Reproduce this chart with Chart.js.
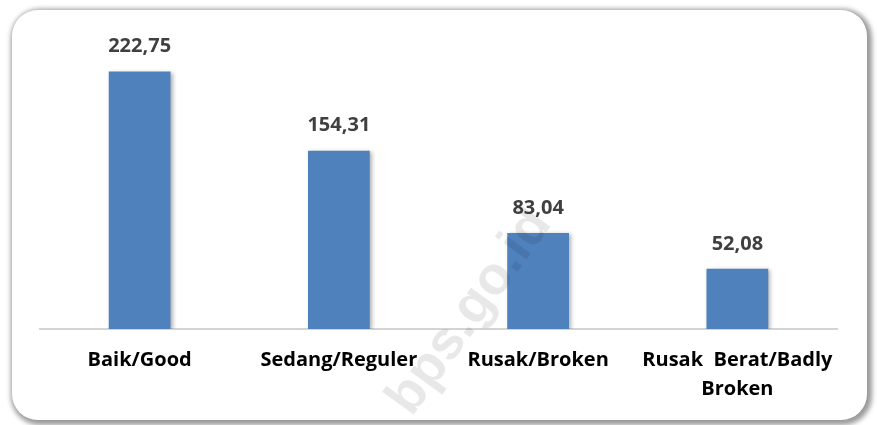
<!DOCTYPE html>
<html>
<head>
<meta charset="utf-8">
<script src="https://cdn.jsdelivr.net/npm/chart.js@4.4.0/dist/chart.umd.min.js"></script>
<style>
    body { margin: 0; background: #ffffff; }
    #frame {
        position: absolute;
        left: 12px;
        top: 10px;
        width: 855px;
        height: 410px;
        background: #fff;
        border-radius: 26px;
        box-shadow: 2px 2px 5px 3px rgba(0, 0, 0, 0.4);
        overflow: hidden;
    }
    #kondisiChart { display: block; }
</style>
</head>
<body>
<div id="frame">
    <canvas id="kondisiChart" width="855" height="410"></canvas>
</div>
<script>
// kondisi jalan (panjang jalan, km)
const categories = ['Baik/Good', 'Sedang/Reguler', 'Rusak/Broken', ['Rusak  Berat/Badly', 'Broken']];
const values = [222.75, 154.31, 83.04, 52.08];
const valueLabels = ['222,75', '154,31', '83,04', '52,08'];

const FONT = '"Open Sans", "Liberation Sans", sans-serif';

// draw value on top of each bar
const valuePlugin = {
    id: 'valuePlugin',
    afterDatasetsDraw: function (chart) {
        const ctx = chart.ctx;
        const meta = chart.getDatasetMeta(0);
        ctx.save();
        ctx.font = 'bold 20px ' + FONT;
        ctx.fillStyle = '#404040';
        ctx.textAlign = 'center';
        ctx.textBaseline = 'middle';
        meta.data.forEach(function (bar, i) {
            ctx.fillText(valueLabels[i], bar.x, bar.y - 25);
        });
        ctx.restore();
    }
};

// little shadow behind the bars
const shadowPlugin = {
    id: 'shadowPlugin',
    beforeDatasetDraw: function (chart) {
        const ctx = chart.ctx;
        ctx.save();
        ctx.shadowColor = 'rgba(0,0,0,0.3)';
        ctx.shadowBlur = 4;
        ctx.shadowOffsetX = 2;
        ctx.shadowOffsetY = 1;
    },
    afterDatasetDraw: function (chart) {
        chart.ctx.restore();
    }
};

// bps.go.id watermark
const watermarkPlugin = {
    id: 'watermarkPlugin',
    afterDraw: function (chart) {
        const ctx = chart.ctx;
        ctx.save();
        ctx.translate(458, 302);
        ctx.rotate(-54 * Math.PI / 180);
        ctx.font = 'bold 54px "Liberation Sans", sans-serif';
        ctx.fillStyle = 'rgba(0,0,0,0.09)';
        ctx.textAlign = 'center';
        ctx.textBaseline = 'middle';
        ctx.fillText('bps.go.id', 0, 0);
        ctx.restore();
    }
};

var ctx = document.getElementById('kondisiChart').getContext('2d');
var kondisiChart = new Chart(ctx, {
    type: 'bar',
    data: {
        labels: categories,
        datasets: [{
            data: values,
            backgroundColor: '#4F81BD',
            borderWidth: 0,
            barPercentage: 0.31,
            categoryPercentage: 1.0
        }]
    },
    options: {
        responsive: false,
        animation: false,
        layout: {
            padding: { left: 28, right: 30, top: 7, bottom: 7 }
        },
        plugins: {
            legend: { display: false },
            tooltip: { enabled: false }
        },
        scales: {
            x: {
                grid: { display: false },
                border: { color: '#d4d4d4', width: 2 },
                ticks: {
                    color: '#000000',
                    font: { family: FONT, size: 20, weight: 'bold', lineHeight: 1.45 },
                    padding: 9,
                    maxRotation: 0,
                    autoSkip: false
                }
            },
            y: {
                display: false,
                min: 0,
                max: 270
            }
        }
    },
    plugins: [shadowPlugin, valuePlugin, watermarkPlugin]
});
</script>
</body>
</html>
